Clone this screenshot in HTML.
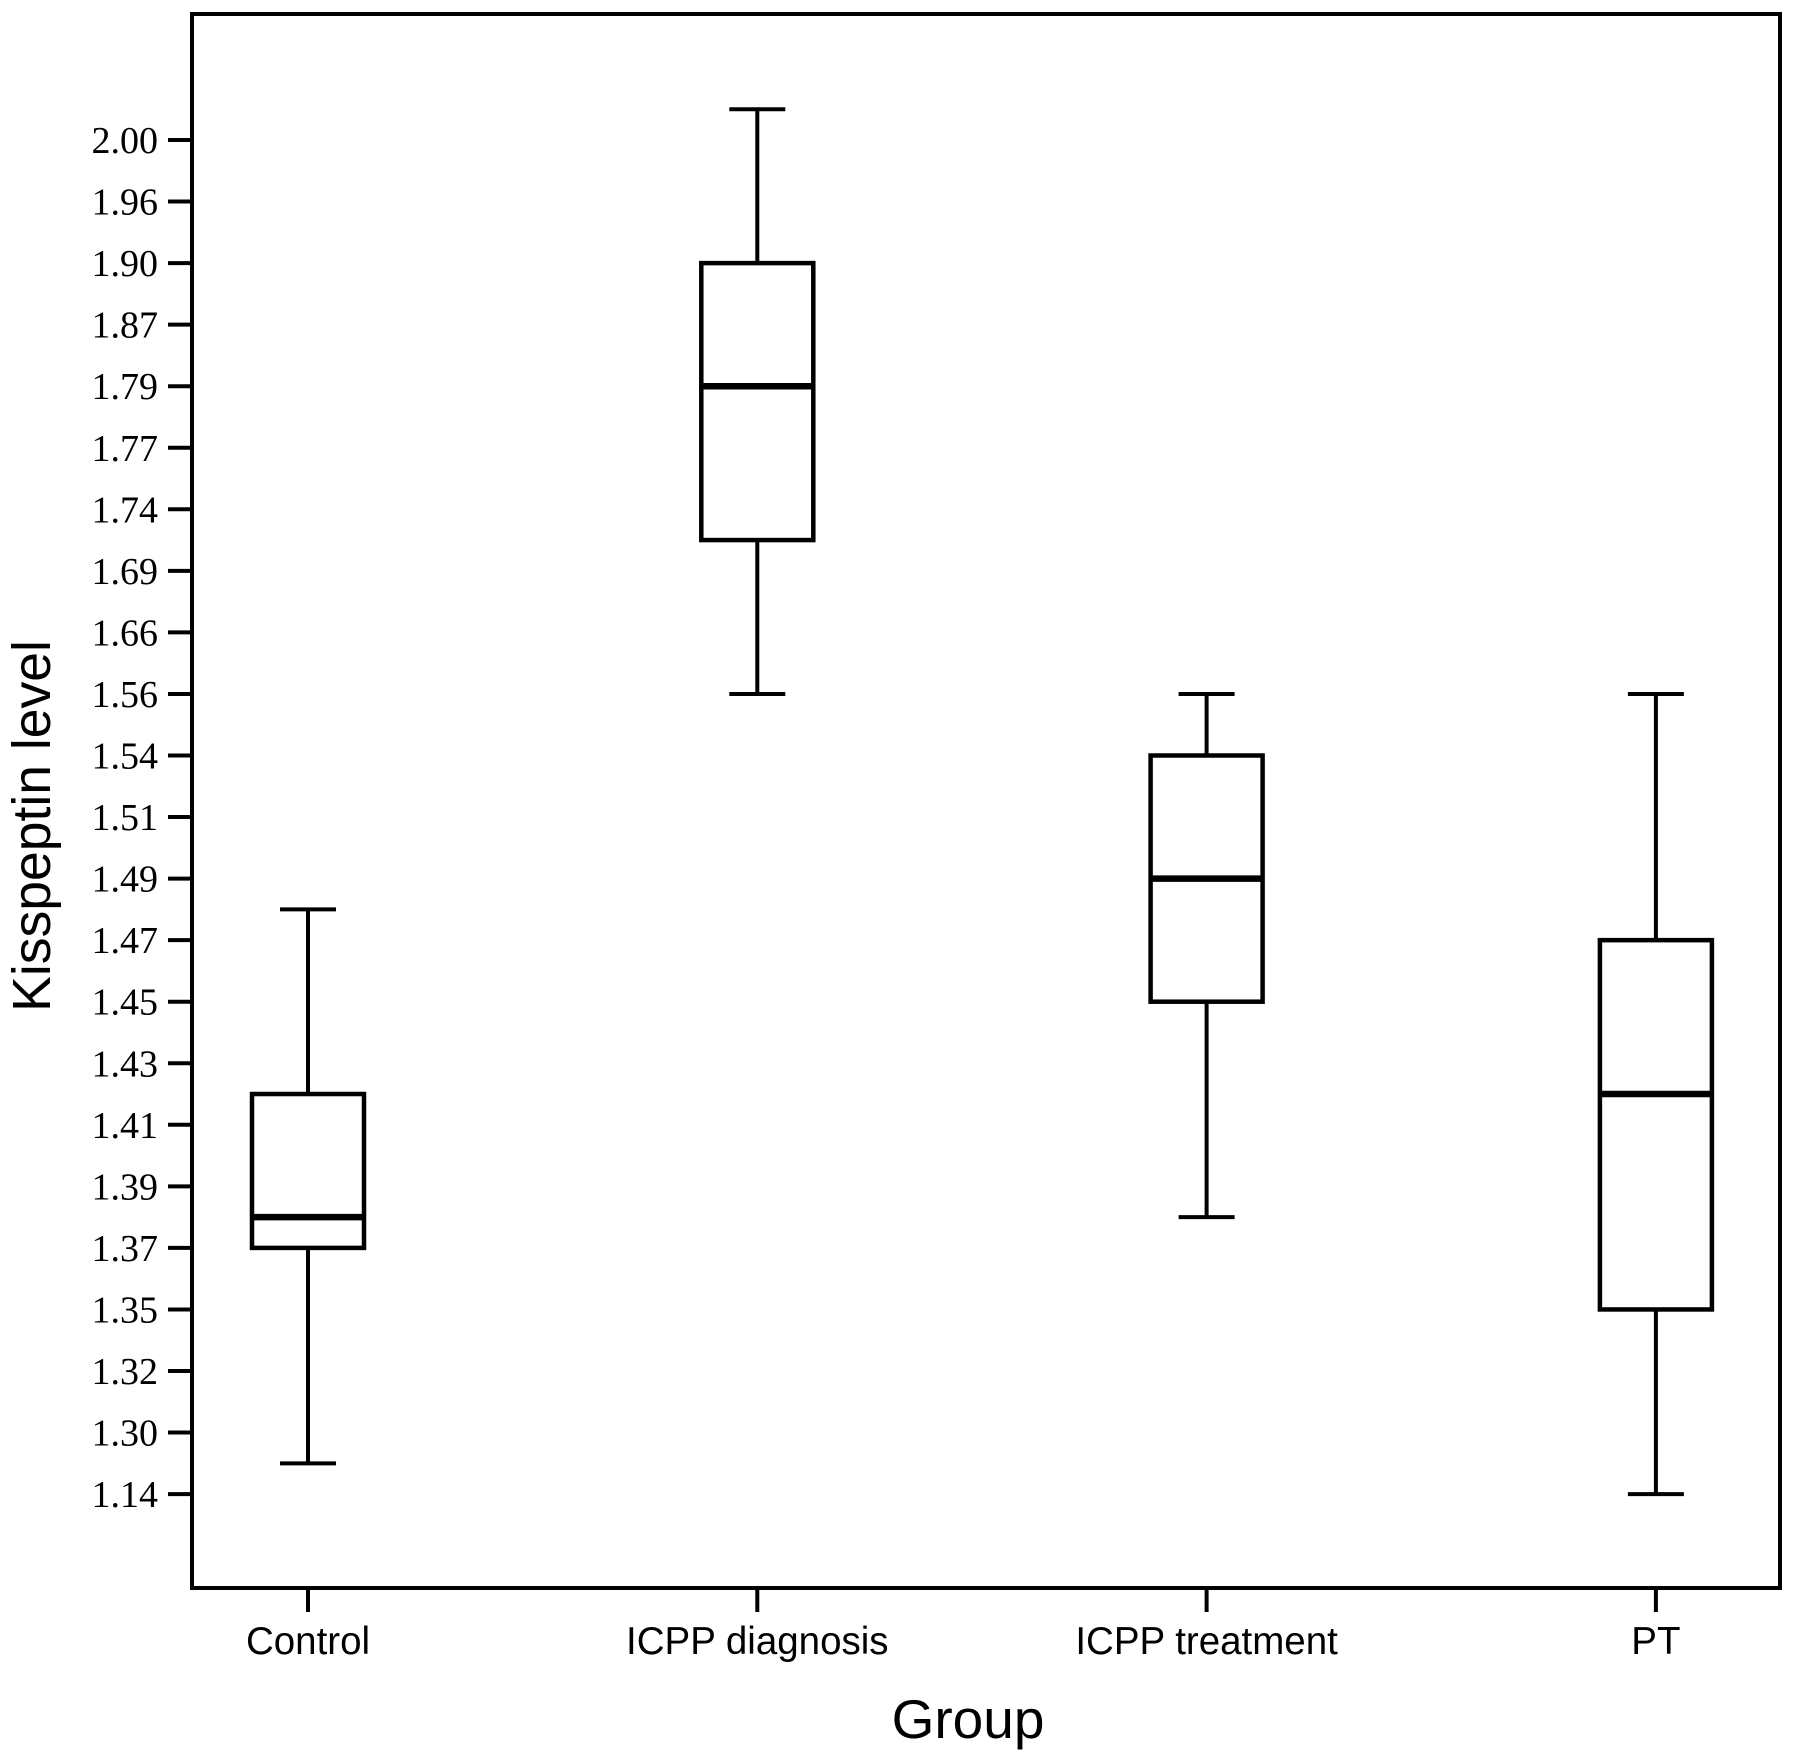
<!DOCTYPE html>
<html><head><meta charset="utf-8"><style>
html,body{margin:0;padding:0;background:#fff;}
svg{display:block;}
</style></head><body>
<svg id="chart" width="1795" height="1760" viewBox="0 0 1795 1760" xmlns="http://www.w3.org/2000/svg">
<rect x="0" y="0" width="1795" height="1760" fill="#fff"/>
<g id="axes"></g>
<g id="boxes"></g>
<text x="0" y="0" transform="translate(50,826) rotate(-90)" text-anchor="middle" font-family="Liberation Sans, sans-serif" font-size="53.5" fill="#000">Kisspeptin level</text>
<text x="968" y="1738" text-anchor="middle" font-family="Liberation Sans, sans-serif" font-size="55" fill="#000">Group</text>
</svg>
<script>
const categories = ["Control", "ICPP diagnosis", "ICPP treatment", "PT"];
const tickLabels = ["2.00","1.96","1.90","1.87","1.79","1.77","1.74","1.69","1.66","1.56","1.54","1.51","1.49","1.47","1.45","1.43","1.41","1.39","1.37","1.35","1.32","1.30","1.14"];
const whiskerHigh = [1.48, 2.02, 1.56, 1.56];
const q3 = [1.42, 1.90, 1.54, 1.47];
const median = [1.38, 1.79, 1.49, 1.42];
const q1 = [1.37, 1.715, 1.45, 1.35];
const whiskerLow = [1.22, 1.56, 1.38, 1.14];

const NS = "http://www.w3.org/2000/svg";
const L = 192, R = 1780, T = 14, B = 1588;
const y0 = 140, step = 61.55;
const tickVals = tickLabels.map(Number);
function yIdx(i){ return y0 + i*step; }
function yScale(v){
  const n = tickVals.length;
  if (v >= tickVals[0]) return yIdx(0) - (v - tickVals[0])/(tickVals[0]-tickVals[1])*step;
  if (v <= tickVals[n-1]) return yIdx(n-1) + (tickVals[n-1]-v)/(tickVals[n-2]-tickVals[n-1])*step;
  for (let i=0;i<n-1;i++){
    const a=tickVals[i], b=tickVals[i+1];
    if (v<=a && v>=b) return yIdx(i) + (a-v)/(a-b)*step;
  }
  return yIdx(0);
}
const x0 = 308, xStep = 449.3;
function xScale(i){ return x0 + i*xStep; }
function mk(tag, attrs, parent){
  const e = document.createElementNS(NS, tag);
  for (const k in attrs) e.setAttribute(k, attrs[k]);
  parent.appendChild(e);
  return e;
}
const axes = document.getElementById('axes');
const frame = mk('rect', {x:L, y:T, width:R-L, height:B-T, fill:'none', stroke:'#000', 'stroke-width':4}, axes);


tickLabels.forEach((lab, i) => {
  const y = yIdx(i);
  const t = mk('line', {x1:168, x2:L, y1:y, y2:y, stroke:'#000', 'stroke-width':4}, axes);
  
  
  const tx = mk('text', {x:158, y:y+13, 'text-anchor':'end', 'font-family':'Liberation Serif, serif', 'font-size':38, fill:'#000'}, axes);
  tx.textContent = lab;
  
  
});
categories.forEach((c, i) => {
  const x = xScale(i);
  const t = mk('line', {x1:x, x2:x, y1:B, y2:1612, stroke:'#000', 'stroke-width':4}, axes);
  
  
  const tx = mk('text', {x:x, y:1654, 'text-anchor':'middle', 'font-family':'Liberation Sans, sans-serif', 'font-size':38.5, fill:'#000'}, axes);
  tx.textContent = c;
  
  
});
const boxes = document.getElementById('boxes');
categories.forEach((c, i) => {
  const x = xScale(i), hw = 56, cw = 28;
  const g = mk('g', {}, boxes);
  
  
  const yh = yScale(whiskerHigh[i]), y3 = yScale(q3[i]), ym = yScale(median[i]), y1 = yScale(q1[i]), yl = yScale(whiskerLow[i]);
  const s = {stroke:'#000', 'stroke-width':4, fill:'none'};
  const w1 = mk('line', Object.assign({x1:x, x2:x, y1:yh, y2:y3}, s), g);
  
  
  const c1 = mk('line', Object.assign({x1:x-cw, x2:x+cw, y1:yh, y2:yh}, s), g);
  
  
  const w2 = mk('line', Object.assign({x1:x, x2:x, y1:y1, y2:yl}, s), g);
  
  
  const c2 = mk('line', Object.assign({x1:x-cw, x2:x+cw, y1:yl, y2:yl}, s), g);
  
  
  const r = mk('rect', {x:x-hw, y:y3, width:2*hw, height:y1-y3, fill:'#fff', stroke:'#000', 'stroke-width':4.5}, g);
  
  
  const m = mk('line', {x1:x-hw, x2:x+hw, y1:ym, y2:ym, stroke:'#000', 'stroke-width':6.5}, g);
  
  
});
</script>
</body></html>
